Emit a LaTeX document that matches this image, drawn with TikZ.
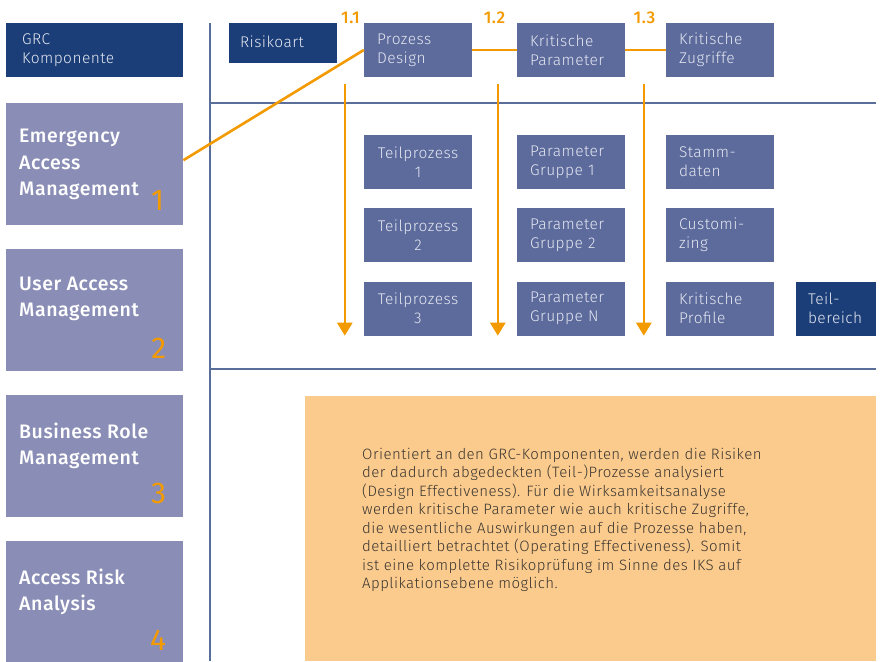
\documentclass[tikz,border=0pt]{standalone}
\usepackage{fontspec}
\setmainfont{Fira Sans}[LetterSpace=3]
\IfFontExistsTF{Fira Sans Medium}
  {\newfontfamily\medfont{Fira Sans Medium}[LetterSpace=3]}
  {\newfontfamily\medfont{Fira Sans}[UprightFont=*-Bold,LetterSpace=3]}
\IfFontExistsTF{Fira Sans Light}
  {\newfontfamily\lightfont{Fira Sans Light}[LetterSpace=3]}
  {\newfontfamily\lightfont{Fira Sans}[LetterSpace=3]}
\usetikzlibrary{arrows.meta}

\definecolor{navy}{HTML}{1B3E78}
\definecolor{lilac}{HTML}{8A8EB6}
\definecolor{slate}{HTML}{5C6A9C}
\definecolor{amber}{HTML}{F39A00}
\definecolor{peach}{HTML}{FBCB8E}
\definecolor{rulecol}{HTML}{5A6E9A}
\definecolor{ink}{HTML}{3B352F}
\definecolor{pale}{HTML}{E4E7F0}

\tikzset{
  tile/.style={draw=none, inner xsep=13pt, inner ysep=0pt, minimum height=54pt,
    text width=82pt, align=left, text=pale,
    font=\lightfont\fontsize{15.5}{19}\selectfont},
  slatetile/.style={tile, fill=slate},
  navytile/.style={tile, fill=navy},
  sidebox/.style={fill=lilac, minimum width=177pt, minimum height=122pt,
    inner sep=0pt, anchor=north west},
  sidetext/.style={anchor=north west, inner sep=0pt, align=left, text=white,
    font=\medfont\fontsize{19.5}{26.5}\selectfont},
  sidenum/.style={anchor=south east, inner sep=0pt, text=amber,
    font=\fontsize{30}{30}\selectfont},
  steplabel/.style={inner sep=0pt, text=amber,
    font=\medfont\fontsize{17}{17}\selectfont},
  gridline/.style={draw=rulecol, line width=1.5pt},
  link/.style={draw=amber, line width=2.6pt},
  flow/.style={draw=amber, line width=2.6pt,
    -{Triangle[width=15pt,length=13pt]}},
}

\begin{document}
\begin{tikzpicture}[x=1pt,y=-1pt]
\useasboundingbox (0,0) rectangle (880,661);

% grid lines
\coordinate (vtop) at (210,23);
\coordinate (vbot) at (210,661);
\coordinate (h1l) at (210,103);
\coordinate (h1r) at (876,103);
\coordinate (h2l) at (210,369);
\coordinate (h2r) at (876,369);
\draw[gridline] (vtop) -- (vbot);
\draw[gridline] (h1l) -- (h1r);
\draw[gridline] (h2l) -- (h2r);

% left column: GRC components
\node[navytile, minimum width=177pt, text width=145pt, inner xsep=16pt,
      font=\lightfont\fontsize{15.5}{18.5}\selectfont]
  (grc) at (94.5,50) {GRC\\Komponente};

\node[sidebox] (eam) at (6,103) {};
\node[sidebox] (uam) at (6,249) {};
\node[sidebox] (brm) at (6,395) {};
\node[sidebox] (ara) at (6,541) {};

\node[sidetext] (eamt) at ([xshift=13pt,yshift=-26pt]eam.north west) {Emergency\\Access\\Management};
\node[sidetext] (uamt) at ([xshift=13pt,yshift=-27.5pt]uam.north west) {User Access\\Management};
\node[sidetext] (brmt) at ([xshift=13pt,yshift=-27.5pt]brm.north west) {Business Role\\Management};
\node[sidetext] (arat) at ([xshift=13pt,yshift=-27.5pt]ara.north west) {Access Risk\\Analysis};

\node[sidenum] (eamn) at ([xshift=-19pt,yshift=15pt]eam.south east) {1};
\node[sidenum] (uamn) at ([xshift=-17pt,yshift=13pt]uam.south east) {2};
\node[sidenum] (brmn) at ([xshift=-17pt,yshift=13pt]brm.south east) {3};
\node[sidenum] (aran) at ([xshift=-17pt,yshift=13pt]ara.south east) {4};

% header row
\node[navytile, minimum height=40pt, inner xsep=11pt, text width=86pt] (risk) at (283,43) {\raisebox{2pt}{Risikoart}};
\node[slatetile] (prozess) at (418,50) {Prozess\\Design};
\node[slatetile] (kparam) at (571,50) {Kritische\\Parameter};
\node[slatetile] (kzugr) at (720,50) {Kritische\\Zugriffe};

% sub-items
\node[slatetile, align=center] (tp1) at (418,162) {Teilprozess\\1};
\node[slatetile, align=center] (tp2) at (418,235) {Teilprozess\\2};
\node[slatetile, align=center] (tp3) at (418,308.5) {Teilprozess\\3};
\node[slatetile] (pg1) at (571,162) {Parameter\\Gruppe 1};
\node[slatetile] (pg2) at (571,235) {Parameter\\Gruppe 2};
\node[slatetile] (pgn) at (571,308.5) {Parameter\\Gruppe N};
\node[slatetile] (stamm) at (720,162) {Stamm-\\daten};
\node[slatetile] (cust) at (720,235) {Customi-\\zing};
\node[slatetile] (kprof) at (720,308.5) {Kritische\\Profile};
\node[navytile, text width=56pt, inner xsep=12pt] (teil) at (836,308.5) {Teil-\\bereich};

% step numbers
\node[steplabel] (s11) at (350.5,17.5) {1.1};
\node[steplabel] (s12) at (494.5,17.5) {1.2};
\node[steplabel] (s13) at (644.5,17.5) {1.3};

% orange connectors
\draw[link] ([yshift=4pt]eam.east) -- (prozess.west);
\draw[link] (prozess.east) -- (kparam.west);
\draw[link] (kparam.east) -- (kzugr.west);

\coordinate (a1) at ([xshift=-19pt,yshift=-7pt]prozess.south west);
\coordinate (a2) at ([xshift=-19pt,yshift=-7pt]kparam.south west);
\coordinate (a3) at ([xshift=-22pt,yshift=-7pt]kzugr.south west);
\draw[flow] (a1) -- (a1 |- tp3.south);
\draw[flow] (a2) -- (a2 |- pgn.south);
\draw[flow] (a3) -- (a3 |- kprof.south);

% description panel
\node[fill=peach, minimum width=571pt, minimum height=265pt, inner sep=0pt,
      anchor=north west] (panel) at (305,396) {};
\node[anchor=north west, inner sep=0pt, align=left, text=ink,
      font=\lightfont\fontsize{15}{18.5}\selectfont] (ptext) at (362,447.5)
{Orientiert an den GRC-Komponenten, werden die Risiken\\
der dadurch abgedeckten (Teil-)Prozesse analysiert\\
(Design Effectiveness). Für die Wirksamkeitsanalyse\\
werden kritische Parameter wie auch kritische Zugriffe,\\
die wesentliche Auswirkungen auf die Prozesse haben,\\
detailliert betrachtet (Operating Effectiveness). Somit\\
ist eine komplette Risikoprüfung im Sinne des IKS auf\\
Applikationsebene möglich.};
\end{tikzpicture}
\end{document}
